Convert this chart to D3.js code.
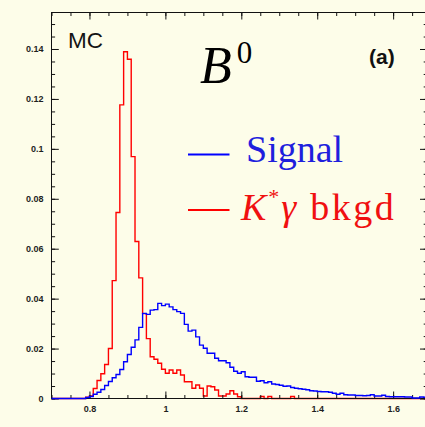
<!DOCTYPE html>
<html><head><meta charset="utf-8">
<script src="https://cdn.jsdelivr.net/npm/d3@7"></script>
<style>
html,body{margin:0;padding:0;background:#fdfde9;}
svg{display:block;}
</style></head><body>
<svg id="chart" width="425" height="427"></svg>
<script>
// Histogram binning: 0.01-wide bins starting at 0.70
const binLow = 0.70;
const binWidth = 0.01;

// B0 signal MC (blue), one value per bin from 0.70 to 1.68
const signal = [
  0, 0, 0, 0, 0, 0, 0, 0, 0, 0.0004,
  0.0008, 0.0017, 0.0025, 0.0036, 0.0052, 0.0068, 0.0083, 0.0096, 0.0116, 0.0147,
  0.0176, 0.0205, 0.0235, 0.0285, 0.0341, 0.0337, 0.0354, 0.0356, 0.0381, 0.0372,
  0.0378, 0.0367, 0.0356, 0.0348, 0.0341, 0.0297, 0.0270, 0.0274, 0.0247, 0.0214,
  0.0201, 0.0181, 0.0181, 0.0161, 0.0151, 0.0151, 0.0143, 0.0125, 0.0109, 0.0101,
  0.0107, 0.0087, 0.0085, 0.0085, 0.0069, 0.0071, 0.0063, 0.0067, 0.0058, 0.0056,
  0.0053, 0.0049, 0.0050, 0.0044, 0.0041, 0.0039, 0.0037, 0.0035, 0.0031, 0.0030,
  0.0028, 0.0027, 0.0027, 0.0025, 0.0021, 0.0017, 0.0021, 0.0015, 0.0014, 0.0014,
  0.0012, 0.0012, 0.0011, 0.0012, 0.0015, 0.0010, 0.0010, 0.0013, 0.0008, 0.0007,
  0.0007, 0.0007, 0.0007, 0.0006, 0.0006, 0.0002, 0.0002, 0.0006, 0.0005
];

// K* gamma background MC (red), same binning
const kstarGammaBkgd = [
  0, 0, 0, 0, 0, 0, 0, 0, 0, 0.0005,
  0.0010, 0.0040, 0.0072, 0.0099, 0.0136, 0.0200, 0.0472, 0.0745, 0.1176, 0.1389,
  0.1359, 0.0969, 0.0629, 0.0483, 0.0340, 0.0240, 0.0167, 0.0157, 0.0141, 0.0117,
  0.0101, 0.0114, 0.0101, 0.0114, 0.0094, 0.0067, 0.0067, 0.0041, 0.0054, 0.0041,
  0.0010, 0.0050, 0.0047, 0.0034, 0.0010, 0.0010, 0.0018, 0.0031, 0.0018, 0.0007,
  0, 0, 0, 0, 0, 0.0008, 0, 0.0008, 0, 0,
  0, 0, 0, 0.0008, 0, 0, 0, 0, 0, 0,
  0, 0, 0, 0, 0, 0, 0, 0, 0, 0,
  0, 0, 0, 0, 0, 0, 0, 0, 0, 0,
  0, 0, 0, 0, 0, 0, 0, 0, 0
];

const yTickValues = [0, 0.02, 0.04, 0.06, 0.08, 0.1, 0.12, 0.14];
const yTickLabels = ["0", "0.02", "0.04", "0.06", "0.08", "0.1", "0.12", "0.14"];
const xTickValues = [0.8, 1.0, 1.2, 1.4, 1.6];
const xTickLabels = ["0.8", "1", "1.2", "1.4", "1.6"];

const legendLabels = ["Signal", "K*\u03b3 bkgd"];
const seriesColors = ["#0000ff", "#ff0000"];

const W = 425, H = 427;
const frame = { left: 51.5, right: 427.3, top: 12.5, bottom: 398.5 };
const xMax = binLow + signal.length * binWidth;

const svg = d3.select("#chart");
svg.append("rect").attr("width", W).attr("height", H).attr("fill", "#fdfde9");

const x = d3.scaleLinear().domain([binLow, xMax]).range([frame.left, frame.right]);
const y = d3.scaleLinear().domain([0, 0.15462]).range([frame.bottom, frame.top]);

// Step outline of a histogram, running along zero outside the filled bins
function histPath(values) {
  const pts = [[binLow, 0]];
  values.forEach((v, i) => {
    const lo = binLow + i * binWidth;
    pts.push([lo, v], [lo + binWidth, v]);
  });
  pts.push([xMax, 0]);
  return d3.line().x(d => x(d[0])).y(d => y(d[1]))(pts);
}

// Background histogram first, the frame over it, then the signal on top
svg.append("path")
  .attr("d", histPath(kstarGammaBkgd))
  .attr("fill", "none")
  .attr("stroke", seriesColors[1])
  .attr("stroke-width", 1.4)
  .attr("stroke-linejoin", "miter");

const axes = svg.append("g").attr("class", "axes");
const tickFont = g => g.selectAll("text")
  .attr("font-family", "'Liberation Sans', Arial, sans-serif")
  .attr("font-weight", "bold")
  .attr("font-size", 9)
  .attr("fill", "#1e1e1e");
const noDomain = g => g.select(".domain").remove();
const yMinor = d3.range(0, 0.1546, 0.005);
const xMinor = d3.range(0.70, 1.69, 0.05);

// Left axis with labels, ticks pointing inward
axes.append("g").attr("transform", `translate(${frame.left},0)`)
  .call(d3.axisLeft(y).tickValues(yTickValues).tickFormat((d, i) => yTickLabels[i])
    .tickSizeInner(-7.3).tickSizeOuter(0).tickPadding(8))
  .call(noDomain).call(tickFont);
axes.append("g").attr("transform", `translate(${frame.left},0)`)
  .call(d3.axisLeft(y).tickValues(yMinor).tickFormat("").tickSize(-3.6))
  .call(noDomain);

// Right axis, ticks only
axes.append("g").attr("transform", `translate(${frame.right},0)`)
  .call(d3.axisRight(y).tickValues(yTickValues).tickFormat("").tickSize(-7.3))
  .call(noDomain);
axes.append("g").attr("transform", `translate(${frame.right},0)`)
  .call(d3.axisRight(y).tickValues(yMinor).tickFormat("").tickSize(-3.6))
  .call(noDomain);

// Bottom axis with labels
axes.append("g").attr("transform", `translate(0,${frame.bottom})`)
  .call(d3.axisBottom(x).tickValues(xTickValues).tickFormat((d, i) => xTickLabels[i])
    .tickSizeInner(-7).tickSizeOuter(0).tickPadding(7.2))
  .call(noDomain).call(tickFont);
axes.append("g").attr("transform", `translate(0,${frame.bottom})`)
  .call(d3.axisBottom(x).tickValues(xMinor).tickFormat("").tickSize(-3.5))
  .call(noDomain);

// Top axis, ticks only
axes.append("g").attr("transform", `translate(0,${frame.top})`)
  .call(d3.axisTop(x).tickValues(xTickValues).tickFormat("").tickSize(-7))
  .call(noDomain);
axes.append("g").attr("transform", `translate(0,${frame.top})`)
  .call(d3.axisTop(x).tickValues(xMinor).tickFormat("").tickSize(-3.5))
  .call(noDomain);

axes.selectAll(".tick line").attr("stroke", "#111");

// Frame
axes.append("rect")
  .attr("x", frame.left).attr("y", frame.top)
  .attr("width", frame.right - frame.left).attr("height", frame.bottom - frame.top)
  .attr("fill", "none").attr("stroke", "#111").attr("stroke-width", 1);

svg.append("path")
  .attr("d", histPath(signal))
  .attr("fill", "none")
  .attr("stroke", seriesColors[0])
  .attr("stroke-width", 1.4)
  .attr("stroke-linejoin", "miter");

// Annotations
svg.append("text")
  .attr("x", 68).attr("y", 48)
  .attr("font-family", "'Liberation Sans', Arial, sans-serif")
  .attr("font-size", 22.5)
  .attr("fill", "#141414")
  .text("MC");

const title = svg.append("text")
  .attr("x", 200).attr("y", 83)
  .attr("font-family", "'Liberation Serif', 'Times New Roman', serif")
  .attr("fill", "#000");
title.append("tspan").attr("font-style", "italic").attr("font-size", 52)
  .attr("letter-spacing", 3).text("B");
title.append("tspan").attr("font-size", 31).attr("dy", -20).attr("dx", 2).text("0");

svg.append("text")
  .attr("x", 369).attr("y", 64)
  .attr("font-family", "'Liberation Sans', Arial, sans-serif")
  .attr("font-weight", "bold")
  .attr("font-size", 21)
  .attr("fill", "#111")
  .text("(a)");

// Legend
const legendY = [154.5, 210];
legendY.forEach((ly, i) => {
  svg.append("line")
    .attr("x1", 188).attr("x2", 229.5)
    .attr("y1", ly).attr("y2", ly)
    .attr("stroke", seriesColors[i]).attr("stroke-width", 1.8);
});

svg.append("text")
  .attr("x", 246).attr("y", 162)
  .attr("font-family", "'Liberation Serif', 'Times New Roman', serif")
  .attr("font-size", 38)
  .attr("fill", "#1f1fdd")
  .text(legendLabels[0]);

const bk = svg.append("text")
  .attr("x", 241).attr("y", 220)
  .attr("font-family", "'Liberation Serif', 'Times New Roman', serif")
  .attr("font-size", 38)
  .attr("fill", "#f01010");
bk.append("tspan").attr("font-style", "italic").attr("letter-spacing", 2).text("K");
bk.append("tspan").attr("font-size", 22).attr("dy", -16).text("*");
bk.append("tspan").attr("font-style", "italic").attr("dy", 16).attr("dx", 2).text("\u03b3");
bk.append("tspan").attr("dx", 14).attr("letter-spacing", 2.5).text("bkgd");
</script>
</body></html>
